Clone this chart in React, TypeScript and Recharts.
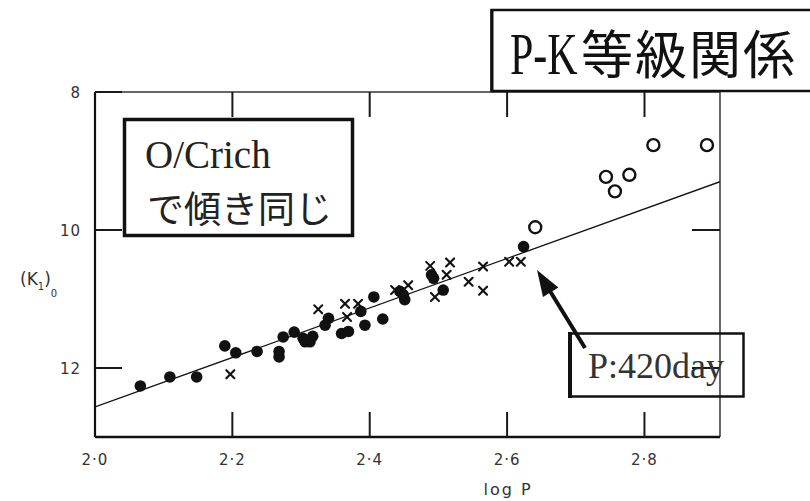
import React from "react";
import { ScatterChart, Scatter, XAxis, YAxis, ReferenceLine } from "recharts";

// period (log P) and K magnitude per star, split by marker type
const dotLogP = [2.066, 2.109, 2.148, 2.189, 2.205, 2.236, 2.268, 2.268, 2.274, 2.29, 2.303, 2.313, 2.317, 2.306, 2.34, 2.335, 2.359, 2.369, 2.387, 2.393, 2.406, 2.419, 2.449, 2.444, 2.451, 2.49, 2.493, 2.507, 2.624];
const dotK = [12.26, 12.13, 12.13, 11.68, 11.78, 11.76, 11.76, 11.84, 11.55, 11.48, 11.57, 11.62, 11.54, 11.62, 11.28, 11.38, 11.5, 11.47, 11.18, 11.38, 10.97, 11.29, 10.94, 10.89, 11.01, 10.65, 10.7, 10.87, 10.24];
const crossLogP = [2.197, 2.325, 2.364, 2.367, 2.383, 2.437, 2.456, 2.488, 2.517, 2.512, 2.495, 2.544, 2.565, 2.565, 2.603, 2.62];
const crossK = [12.09, 11.15, 11.07, 11.26, 11.07, 10.87, 10.8, 10.52, 10.47, 10.65, 10.97, 10.75, 10.53, 10.88, 10.46, 10.46];
const ringLogP = [2.641, 2.744, 2.757, 2.778, 2.813, 2.891];
const ringK = [9.96, 9.23, 9.44, 9.2, 8.77, 8.77];

// fitted P-K relation, end points
const fitLogP = [2.0, 2.91];
const fitK = [12.565, 9.3];

// arrow pointing at P = 420 day (tail, head)
const arrowLogP = [2.7135, 2.6436];
const arrowK = [11.71, 10.58];

const xTicks = [2.0, 2.2, 2.4, 2.6, 2.8];
const yTicks = [8, 10, 12];

const X_DOMAIN: [number, number] = [2.0, 2.91];
const Y_DOMAIN: [number, number] = [8, 13];

const zip = (xs: number[], ys: number[]) => xs.map((x, i) => ({ x, y: ys[i] }));
const dots = zip(dotLogP, dotK);
const crosses = zip(crossLogP, crossK);
const rings = zip(ringLogP, ringK);
const fit = zip(fitLogP, fitK);
const arrow = zip(arrowLogP, arrowK);

const W = 810;
const H = 501;
const PLOT = { left: 95, right: 720, top: 92, bottom: 437 };
const INK = "#111";

// same linear mapping the chart uses, for the ticks on the top and right edges
const sx = (v: number) =>
  PLOT.left + ((v - X_DOMAIN[0]) / (X_DOMAIN[1] - X_DOMAIN[0])) * (PLOT.right - PLOT.left);
const sy = (v: number) =>
  PLOT.top + ((v - Y_DOMAIN[0]) / (Y_DOMAIN[1] - Y_DOMAIN[0])) * (PLOT.bottom - PLOT.top);

let edgeTicks = "";
for (const v of xTicks) {
  if (v <= X_DOMAIN[0]) continue;
  edgeTicks += `M${sx(v).toFixed(1)} ${PLOT.top}V${PLOT.top + 25}`;
}
for (const v of yTicks) {
  if (v <= Y_DOMAIN[0]) continue;
  edgeTicks += `M${PLOT.right} ${sy(v).toFixed(1)}H${PLOT.right - 28}`;
}

const Dot = (p: any) => <circle cx={p.cx} cy={p.cy} r={5.8} fill={INK} />;
const Cross = (p: any) => (
  <g stroke={INK} strokeWidth={2.1} strokeLinecap="round">
    <line x1={p.cx - 4} y1={p.cy - 4} x2={p.cx + 4} y2={p.cy + 4} />
    <line x1={p.cx - 4} y1={p.cy + 4} x2={p.cx + 4} y2={p.cy - 4} />
  </g>
);
const Ring = (p: any) => (
  <circle cx={p.cx} cy={p.cy} r={6} fill="#fff" stroke={INK} strokeWidth={2.4} />
);
const Nothing = () => <g />;

const XTick = (p: any) => (
  <text x={p.x} y={465} textAnchor="middle" fontFamily="DejaVu Sans" fontSize={15} letterSpacing={1} fill="#333">
    {(p.payload.value as number).toFixed(1).replace(".", "·")}
  </text>
);

const YTick = (p: any) => (
  <text x={81} y={p.y + 6} textAnchor="end" fontFamily="DejaVu Sans" fontSize={15} letterSpacing={1} fill="#333">
    {p.payload.value}
  </text>
);

const Arrow = (p: any) => {
  const { x1, y1, x2, y2 } = p;
  const dx = x2 - x1;
  const dy = y2 - y1;
  const len = Math.hypot(dx, dy);
  const ux = dx / len;
  const uy = dy / len;
  const headLen = 26;
  const half = 9;
  const bx = x2 - ux * headLen;
  const by = y2 - uy * headLen;
  return (
    <g>
      <line x1={x1} y1={y1} x2={bx + ux * 4} y2={by + uy * 4} stroke={INK} strokeWidth={4} />
      <polygon
        points={`${x2},${y2} ${bx - uy * half},${by + ux * half} ${bx + uy * half},${by - ux * half}`}
        fill={INK}
      />
    </g>
  );
};

export default function App() {
  return (
    <div style={{ position: "absolute", left: 0, top: 0, width: W, height: H, overflow: "hidden", background: "#fff" }}>
      <div style={{ position: "absolute", left: 0, top: 0 }}>
        <ScatterChart width={W} height={H} margin={{ top: PLOT.top, right: W - PLOT.right, bottom: 0, left: 0 }}>
          {/* negative tick sizes turn the tick marks inward */}
          <XAxis
            type="number"
            dataKey="x"
            domain={X_DOMAIN}
            ticks={xTicks}
            allowDataOverflow
            height={H - PLOT.bottom}
            tickSize={-25}
            tickMargin={0}
            tickLine={{ stroke: "#1a1a1a", strokeWidth: 2 }}
            tick={XTick}
            axisLine={{ stroke: INK, strokeWidth: 2.6 }}
          />
          <YAxis
            type="number"
            dataKey="y"
            domain={Y_DOMAIN}
            reversed
            ticks={yTicks}
            allowDataOverflow
            width={PLOT.left}
            tickSize={-27}
            tickMargin={0}
            tickLine={{ stroke: "#1a1a1a", strokeWidth: 2 }}
            tick={YTick}
            axisLine={{ stroke: INK, strokeWidth: 2.2 }}
          />
          <ReferenceLine y={Y_DOMAIN[0]} stroke="#333" strokeWidth={1.6} ifOverflow="visible" />
          <ReferenceLine x={X_DOMAIN[1]} stroke="#444" strokeWidth={1.6} ifOverflow="visible" />

          <Scatter data={fit} line={{ stroke: INK, strokeWidth: 1.3 }} shape={Nothing} isAnimationActive={false} />
          <Scatter data={dots} shape={Dot} isAnimationActive={false} />
          <Scatter data={crosses} shape={Cross} isAnimationActive={false} />
          <Scatter data={rings} shape={Ring} isAnimationActive={false} />
          <ReferenceLine segment={[arrow[0], arrow[1]]} ifOverflow="visible" shape={Arrow} />
        </ScatterChart>
      </div>
      <svg width={W} height={H} style={{ position: "absolute", left: 0, top: 0, pointerEvents: "none" }}>
        <path d={edgeTicks} fill="none" stroke="#1a1a1a" strokeWidth={2} />

        {/* title */}
        <rect x={491.5} y={10} width={340} height={81} fill="#fff" stroke={INK} strokeWidth={2.5} />
        <line x1={492} y1={9} x2={492} y2={92} stroke={INK} strokeWidth={3} />
        <g transform="translate(510 74) scale(0.7 1)">
          <text x={0} y={0} fontFamily="Liberation Serif" fontSize={60} fill={INK}>
            P-K
          </text>
        </g>
        <text x={581} y={74} fontFamily="Noto Sans CJK JP" fontSize={52} textLength={214} lengthAdjust="spacing" fill={INK}>
          等級関係
        </text>

        {/* slope note */}
        <rect x={124.5} y={119.5} width={228} height={116} fill="#fff" stroke={INK} strokeWidth={3.5} />
        <text x={145} y={168} fontFamily="Liberation Serif" fontSize={39} fill="#222">
          O/Crich
        </text>
        <text x={147} y={223} fontFamily="Noto Sans CJK JP" fontSize={37} fill="#222">
          で傾き同じ
        </text>

        {/* period label */}
        <rect x={569.5} y={333.5} width={174} height={63} fill="none" stroke={INK} strokeWidth={2.5} />
        <line x1={570} y1={332} x2={570} y2={398} stroke={INK} strokeWidth={4} />
        <text x={588} y={378} fontFamily="Liberation Serif" fontSize={36} fill="#333">
          P:420day
        </text>

        {/* axis titles */}
        <text x={20} y={285} fontFamily="DejaVu Sans" fontSize={17} fill="#333">
          (K<tspan fontSize={10} dy={5}>1</tspan>
          <tspan dy={-5}>)</tspan>
          <tspan fontSize={10} dy={12}>0</tspan>
        </text>
        <text x={508} y={495} textAnchor="middle" fontFamily="DejaVu Sans" fontSize={16} letterSpacing={2} fill="#333">
          log P
        </text>
      </svg>
    </div>
  );
}
